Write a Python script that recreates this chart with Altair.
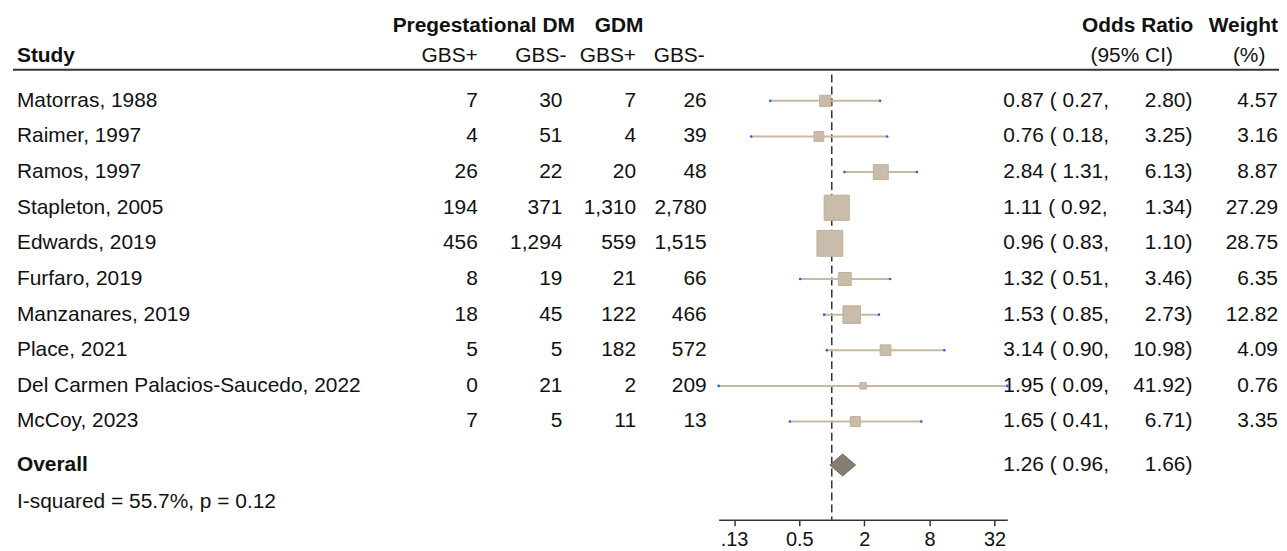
import altair as alt
import pandas as pd

# ---------------- data ----------------
studies = ["Matorras, 1988", "Raimer, 1997", "Ramos, 1997", "Stapleton, 2005",
           "Edwards, 2019", "Furfaro, 2019", "Manzanares, 2019", "Place, 2021",
           "Del Carmen Palacios-Saucedo, 2022", "McCoy, 2023"]
preg_pos = [7, 4, 26, 194, 456, 8, 18, 5, 0, 7]
preg_neg = [30, 51, 22, 371, 1294, 19, 45, 5, 21, 5]
gdm_pos = [7, 4, 20, 1310, 559, 21, 122, 182, 2, 11]
gdm_neg = [26, 39, 48, 2780, 1515, 66, 466, 572, 209, 13]
or_est = [0.87, 0.76, 2.84, 1.11, 0.96, 1.32, 1.53, 3.14, 1.95, 1.65]
or_lo = [0.27, 0.18, 1.31, 0.92, 0.83, 0.51, 0.85, 0.90, 0.09, 0.41]
or_hi = [2.80, 3.25, 6.13, 1.34, 1.10, 3.46, 2.73, 10.98, 41.92, 6.71]
weights = [4.57, 3.16, 8.87, 27.29, 28.75, 6.35, 12.82, 4.09, 0.76, 3.35]
overall_est, overall_lo, overall_hi = 1.26, 0.96, 1.66
overall_label = "Overall"
heterogeneity = "I-squared = 55.7%, p = 0.12"
tick_values = [0.125, 0.5, 2, 8, 32]

# ---------------- layout (row units) ----------------
ROW_HEAD1, ROW_HEAD2, ROW_LINE = -2.09, -1.26, -0.87
ROW_OVERALL, ROW_HET = 10.22, 11.25
Y_MIN, Y_MAX = -2.57, 11.76
W, H = 1277, 513
FONT = "Liberation Sans"
FS = 21

df = pd.DataFrame({
    "study": studies,
    "row": list(range(len(studies))),
    "pp": [f"{v:,}" for v in preg_pos],
    "pn": [f"{v:,}" for v in preg_neg],
    "gp": [f"{v:,}" for v in gdm_pos],
    "gn": [f"{v:,}" for v in gdm_neg],
    "est": or_est, "lo": or_lo, "hi": or_hi, "w": weights,
})
df["orA"] = [f"{e:.2f} ( {l:.2f}," for e, l in zip(or_est, or_lo)]
df["orB"] = [f"{h:.2f})" for h in or_hi]
df["wt"] = [f"{w:.2f}" for w in weights]

ov = pd.DataFrame({"row": [ROW_OVERALL],
                   "orA": [f"{overall_est:.2f} ( {overall_lo:.2f},"],
                   "orB": [f"{overall_hi:.2f})"],
                   "label": [overall_label]})
half = 0.307
diamond = pd.DataFrame({
    "x": [overall_lo, overall_est, overall_hi],
    "y": [ROW_OVERALL, ROW_OVERALL - half, ROW_OVERALL],
    "y2": [ROW_OVERALL, ROW_OVERALL + half, ROW_OVERALL],
})
het = pd.DataFrame({"row": [ROW_HET], "label": [heterogeneity]})
ref = pd.DataFrame({"x": [1.0], "y": [-0.74], "y2": [Y_MAX]})
hline = pd.DataFrame({"row": [ROW_LINE]})

yscale = alt.Scale(domain=[Y_MIN, Y_MAX], reverse=True, nice=False, zero=False)
xscale = alt.Scale(type="log", base=2, domain=[0.09, 41.92], range=[714, 1004], nice=False)
xaxis = alt.Axis(values=tick_values, grid=False, title=None,
                 labelExpr="datum.value < 0.2 ? '.13' : format(datum.value, '~g')",
                 labelFont=FONT, labelFontSize=20, labelColor="#111",
                 domainColor="#333", domainWidth=1.5, tickColor="#333", tickWidth=1.5,
                 tickSize=6, labelPadding=4)


def Y(field="row"):
    return alt.Y(f"{field}:Q", scale=yscale, axis=None)


def text_layer(data, field, xpx, align, bold=False, row="row"):
    return alt.Chart(data).mark_text(
        align=align, baseline="middle", font=FONT, fontSize=FS,
        fontWeight="bold" if bold else "normal", color="#111"
    ).encode(x=alt.value(xpx), y=Y(row), text=f"{field}:N")


# headers
heads = []
for txt, xpx, align, row, bold in [
    ("Pregestational DM", 478, "center", ROW_HEAD1, True),
    ("GDM", 614, "center", ROW_HEAD1, True),
    ("Odds Ratio", 1135, "center", ROW_HEAD1, True),
    ("Weight", 1276, "right", ROW_HEAD1, True),
    ("Study", 9, "left", ROW_HEAD2, True),
    ("GBS+", 472, "right", ROW_HEAD2, False),
    ("GBS-", 561, "right", ROW_HEAD2, False),
    ("GBS+", 631, "right", ROW_HEAD2, False),
    ("GBS-", 700, "right", ROW_HEAD2, False),
    ("(95% CI)", 1129, "center", ROW_HEAD2, False),
    ("(%)", 1247, "center", ROW_HEAD2, False),
]:
    heads.append(text_layer(pd.DataFrame({"row": [row], "t": [txt]}), "t", xpx, align, bold))

header_rule = alt.Chart(hline).mark_rule(color="#333", strokeWidth=2).encode(
    x=alt.value(5), x2=alt.value(W), y=Y())

cols = [
    text_layer(df, "study", 9, "left"),
    text_layer(df, "pp", 472, "right"),
    text_layer(df, "pn", 557, "right"),
    text_layer(df, "gp", 631, "right"),
    text_layer(df, "gn", 702, "right"),
    text_layer(df, "orA", 1000, "left"),
    text_layer(df, "orB", 1190, "right"),
    text_layer(df, "wt", 1276, "right"),
    text_layer(ov, "label", 9, "left", bold=True),
    text_layer(ov, "orA", 1000, "left"),
    text_layer(ov, "orB", 1190, "right"),
    text_layer(het, "label", 9, "left"),
]

refline = alt.Chart(ref).mark_rule(color="#333", strokeWidth=1.5, strokeDash=[8, 4]).encode(
    x=alt.X("x:Q", scale=xscale, axis=xaxis), y=Y("y"), y2="y2:Q")

whisk = alt.Chart(df).mark_rule(color="#c9b9a3", strokeWidth=2).encode(
    x=alt.X("lo:Q", scale=xscale, axis=xaxis), x2="hi:Q", y=Y())

ends_lo = alt.Chart(df).mark_circle(color="#2b5cff", opacity=1, size=7).encode(
    x=alt.X("lo:Q", scale=xscale, axis=xaxis), y=Y())
ends_hi = alt.Chart(df).mark_circle(color="#2b5cff", opacity=1, size=7).encode(
    x=alt.X("hi:Q", scale=xscale, axis=xaxis), y=Y())

boxes = alt.Chart(df).mark_square(fill="#c9bcaa", stroke="#bfb09b", strokeWidth=1, opacity=1).encode(
    x=alt.X("est:Q", scale=xscale, axis=xaxis), y=Y(),
    size=alt.Size("w:Q", scale=alt.Scale(domain=[0, 30], range=[25, 700]), legend=None))

dia = alt.Chart(diamond).mark_area(orient="vertical", color="#857d70", stroke="#6f685d",
                                   strokeWidth=1, opacity=1).encode(
    x=alt.X("x:Q", scale=xscale, axis=xaxis), y=Y("y"), y2="y2:Q")

chart = alt.layer(
    header_rule, *heads, *cols, refline, whisk, ends_lo, ends_hi, boxes, dia
).properties(
    width=W, height=H,
    background="white",
    autosize=alt.AutoSizeParams(type="none"),
    padding={"left": 0, "top": 0, "right": 0, "bottom": 30},
).configure_view(stroke=None, strokeWidth=0)

chart.save("out.html", embed_options={"renderer": "svg", "actions": False})
